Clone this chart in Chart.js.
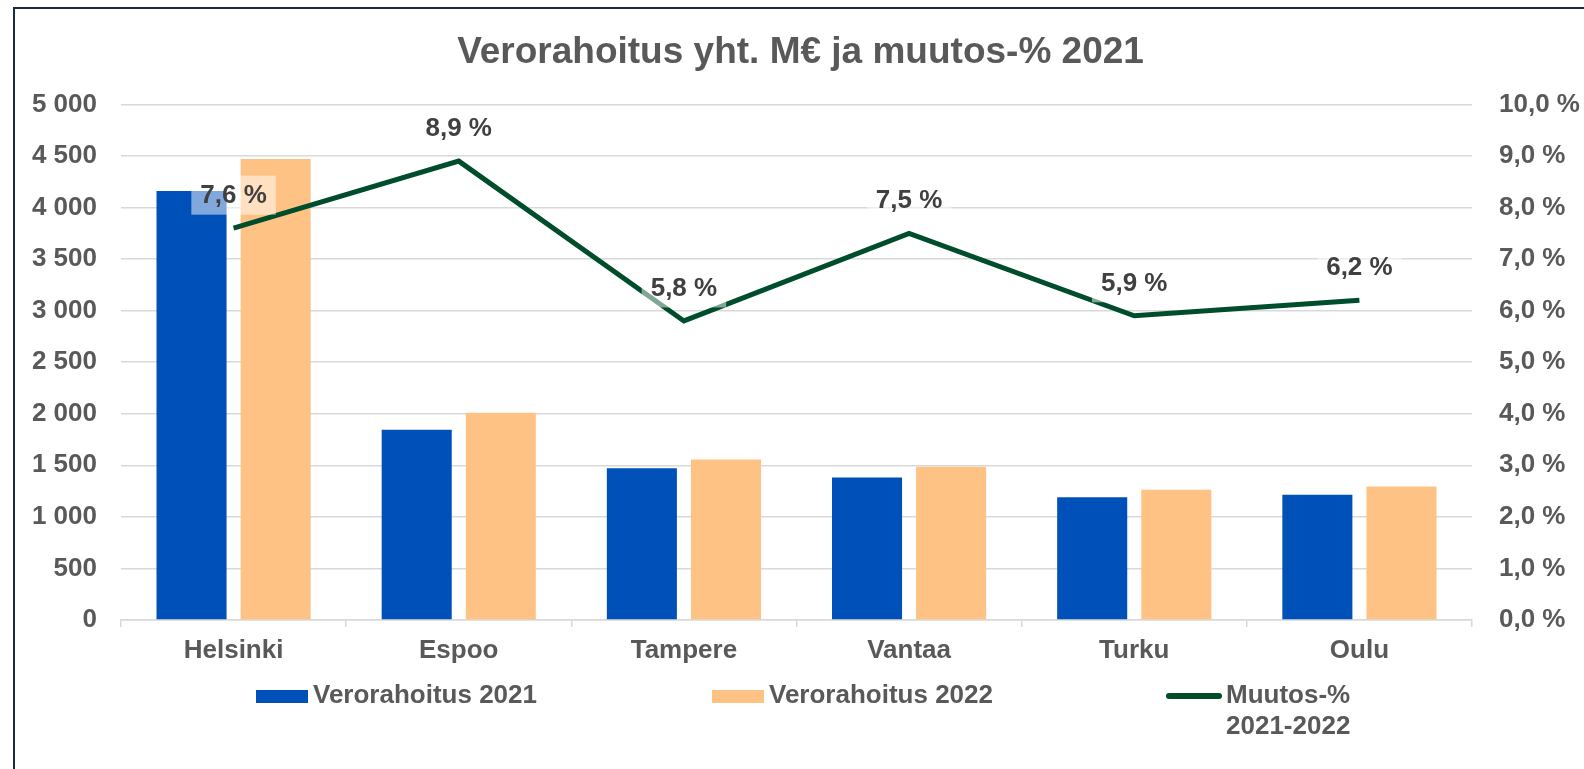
<!DOCTYPE html>
<html>
<head>
<meta charset="utf-8">
<script src="https://cdn.jsdelivr.net/npm/chart.js"></script>
<style>
  html, body { margin: 0; padding: 0; background: #fff; overflow: hidden; }
  #wrap { position: relative; width: 1584px; height: 769px; }
  #frame { position: absolute; left: 13px; top: 7px; width: 1620px; height: 820px; border: 2px solid #1b2a4a; box-sizing: border-box; }
  #box { position: absolute; left: 0; top: 0; width: 1584px; height: 769px; }
</style>
</head>
<body>
<div id="wrap">
  <div id="frame"></div>
  <div id="box"><canvas id="myChart"></canvas></div>
</div>
<script>
// kaupungit ja arvot (M€ ja muutos-%)
const kaupungit = ['Helsinki', 'Espoo', 'Tampere', 'Vantaa', 'Turku', 'Oulu'];
const vero2021 = [4160, 1845, 1472, 1382, 1190, 1214];
const vero2022 = [4470, 2010, 1557, 1485, 1262, 1294];
const muutos = [7.6, 8.9, 5.8, 7.5, 5.9, 6.2];
const sarjat = ['Verorahoitus 2021', 'Verorahoitus 2022', ['Muutos-%', '2021-2022']];

const FONT = '"Liberation Sans", Arial, sans-serif';
const HARMAA = '#595959';
const SININEN = '#0050b9';
const PERSIKKA = '#ffc285';
const VIHREA = '#004d2c';

function tuhannet(v) {
    return String(v).replace(/\B(?=(\d{3})+(?!\d))/g, ' ');
}
function prosentti(v) {
    return v.toFixed(1).replace('.', ',') + ' %';
}

// arvotunnisteet viivan pisteiden ylle
const arvoTunnisteet = {
    id: 'arvoTunnisteet',
    afterDatasetsDraw(chart) {
        const ctx = chart.ctx;
        const meta = chart.getDatasetMeta(2);
        ctx.save();
        ctx.font = 'bold 26px ' + FONT;
        ctx.textAlign = 'center';
        ctx.textBaseline = 'middle';
        meta.data.forEach((pt, i) => {
            const teksti = prosentti(muutos[i]);
            const w = ctx.measureText(teksti).width + 18;
            const h = 39;
            const x = pt.x, y = pt.y - 33;
            ctx.fillStyle = 'rgba(255,255,255,0.5)';
            ctx.fillRect(x - w / 2, y - h / 2, w, h);
            ctx.fillStyle = '#404040';
            ctx.fillText(teksti, x, y + 1);
        });
        ctx.restore();
    }
};

// selite alareunaan
const selite = {
    id: 'selite',
    afterDraw(chart) {
        const ctx = chart.ctx;
        const ds = chart.data.datasets;
        const alku = [256, 712, 1166];
        const y = 696;
        ctx.save();
        ctx.font = 'bold 26px ' + FONT;
        ctx.textAlign = 'left';
        ctx.textBaseline = 'middle';
        ds.forEach((d, i) => {
            const x = alku[i];
            if (d.type === 'line') {
                ctx.strokeStyle = d.borderColor;
                ctx.lineWidth = 6;
                ctx.lineCap = 'round';
                ctx.beginPath();
                ctx.moveTo(x + 3, y);
                ctx.lineTo(x + 53, y);
                ctx.stroke();
            } else {
                ctx.fillStyle = d.backgroundColor;
                ctx.fillRect(x, y - 6, 52, 13);
            }
            const rivit = Array.isArray(d.label) ? d.label : [d.label];
            ctx.fillStyle = HARMAA;
            rivit.forEach((r, j) => ctx.fillText(r, x + (d.type === 'line' ? 60 : 57), y + j * 31));
        });
        ctx.restore();
    }
};

const ctx = document.getElementById('myChart').getContext('2d');
const chart = new Chart(ctx, {
    type: 'bar',
    data: {
        labels: kaupungit,
        datasets: [{
            label: sarjat[0],
            data: vero2021,
            backgroundColor: SININEN,
            yAxisID: 'y',
            order: 2,
            categoryPercentage: 0.747,
            barPercentage: 0.833
        }, {
            label: sarjat[1],
            data: vero2022,
            backgroundColor: PERSIKKA,
            yAxisID: 'y',
            order: 2,
            categoryPercentage: 0.747,
            barPercentage: 0.833
        }, {
            type: 'line',
            label: sarjat[2],
            data: muutos,
            borderColor: VIHREA,
            backgroundColor: VIHREA,
            borderWidth: 5,
            pointRadius: 0,
            tension: 0,
            yAxisID: 'y1',
            order: 1
        }]
    },
    options: {
        responsive: true,
        maintainAspectRatio: false,
        animation: false,
        layout: { padding: { left: 17, right: 0, top: 0, bottom: 99 } },
        plugins: {
            legend: { display: false },
            tooltip: { enabled: false },
            title: {
                display: true,
                text: 'Verorahoitus yht. M€ ja muutos-% 2021',
                color: HARMAA,
                font: { family: FONT, size: 37, weight: 'bold' },
                padding: { top: 31, bottom: 29 }
            }
        },
        scales: {
            x: {
                grid: { display: true, drawOnChartArea: false, drawTicks: true, tickLength: 7, color: '#d9d9d9', lineWidth: 1.5, offset: true },
                border: { display: true, color: '#d9d9d9', width: 1.5 },
                ticks: { color: HARMAA, font: { family: FONT, size: 26, weight: 'bold' }, padding: 8 },
                afterFit: s => { s.height = 50; }
            },
            y: {
                position: 'left',
                min: 0,
                max: 5000,
                ticks: { stepSize: 500, padding: 24, color: HARMAA, font: { family: FONT, size: 26, weight: 'bold' }, callback: v => tuhannet(v) },
                grid: { color: '#d9d9d9', lineWidth: 1.5, drawTicks: false },
                border: { display: false },
                afterFit: s => { s.width = 104; }
            },
            y1: {
                position: 'right',
                min: 0,
                max: 10,
                ticks: { stepSize: 1, padding: 27, color: HARMAA, font: { family: FONT, size: 26, weight: 'bold' }, callback: v => prosentti(v) },
                grid: { drawOnChartArea: false, drawTicks: false },
                border: { display: false },
                afterFit: s => { s.width = 112; }
            }
        }
    },
    plugins: [arvoTunnisteet, selite]
});
</script>
</body>
</html>
